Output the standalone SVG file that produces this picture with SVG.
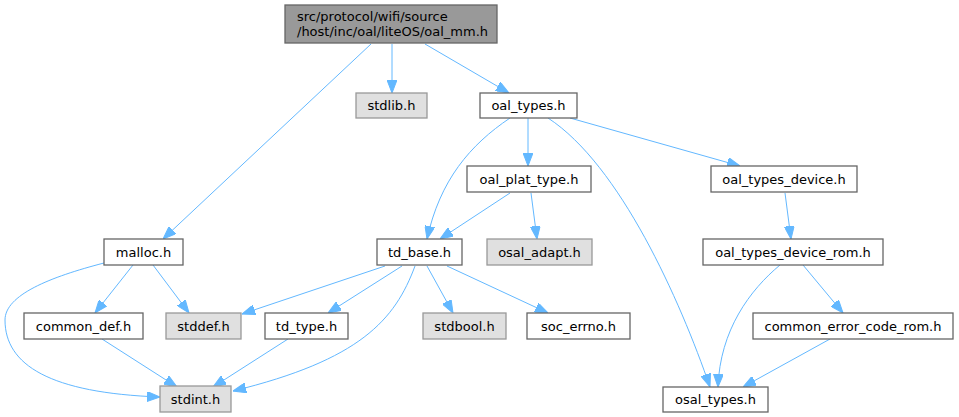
<svg xmlns="http://www.w3.org/2000/svg" width="959" height="417" viewBox="0 0 959 417">
<style>
.n rect{fill:#ffffff;stroke:#666666;stroke-width:1.3}
.g rect{fill:#e0e0e0;stroke:#999999;stroke-width:1.3}
.t rect{fill:#999999;stroke:#666666;stroke-width:1.3}
text{font-family:"DejaVu Sans",sans-serif;font-size:13px;fill:#000000}
.c{text-anchor:middle}
#edges path{fill:none;stroke:#63b8ff;stroke-width:1;marker-end:url(#ah)}
</style>
<defs>
<marker id="ah" markerUnits="userSpaceOnUse" markerWidth="13" markerHeight="10" refX="13" refY="5" orient="auto">
<path d="M0,0 L13,5 L0,10 z" fill="#63b8ff" stroke="#63b8ff" stroke-width="1"/>
</marker>
</defs>
<rect width="959" height="417" fill="#ffffff"/>
<g id="edges">
<path d="M371,44 L163,239"/>
<path d="M392,44 L392,93"/>
<path d="M425,44 L509,93"/>
<path d="M510,118 C470,145 440,180 427,239"/>
<path d="M528,118 L528,166"/>
<path d="M570,118 L740,166"/>
<path d="M548,118 C620,165 680,300 710,387"/>
<path d="M510,193 L440,239"/>
<path d="M531,193 L537,239"/>
<path d="M785,193 L791,239"/>
<path d="M780,265 C750,290 720,330 718,387"/>
<path d="M803,265 L843,313"/>
<path d="M830,339 L743,387"/>
<path d="M133,265 L95,313"/>
<path d="M153,265 L189,313"/>
<path d="M104,263 C50,277 5,295 5,320 C5,365 50,393 160,397"/>
<path d="M385,266 L242,314"/>
<path d="M402,266 L328,313"/>
<path d="M415,266 C395,320 360,360 233,391"/>
<path d="M427,266 L453,313"/>
<path d="M447,266 L548,313"/>
<path d="M102,339 L177,387"/>
<path d="M288,339 L213,387"/>
</g>
<g id="oal_mm" class="t"><rect x="285" y="5" width="212" height="38"/><text x="297" y="21">src/protocol/wifi/source</text><text x="297" y="36">/host/inc/oal/liteOS/oal_mm.h</text></g>
<g id="stdlib" class="g"><rect x="356" y="93" width="71" height="25"/><text class="c" x="391.5" y="110">stdlib.h</text></g>
<g id="oal_types" class="n"><rect x="480" y="93" width="97" height="25"/><text class="c" x="528.5" y="110">oal_types.h</text></g>
<g id="oal_plat_type" class="n"><rect x="467" y="166" width="124" height="26"/><text class="c" x="529" y="183.5">oal_plat_type.h</text></g>
<g id="oal_types_device" class="n"><rect x="711" y="166" width="146" height="26"/><text class="c" x="784" y="183.5">oal_types_device.h</text></g>
<g id="malloc" class="n"><rect x="104" y="239" width="79" height="26"/><text class="c" x="143.5" y="256.5">malloc.h</text></g>
<g id="td_base" class="n"><rect x="377" y="239" width="85" height="26"/><text class="c" x="419.5" y="256.5">td_base.h</text></g>
<g id="osal_adapt" class="g"><rect x="487" y="239" width="105" height="26"/><text class="c" x="539.5" y="256.5">osal_adapt.h</text></g>
<g id="oal_types_device_rom" class="n"><rect x="703" y="239" width="180" height="26"/><text class="c" x="793" y="256.5">oal_types_device_rom.h</text></g>
<g id="common_def" class="n"><rect x="24" y="313" width="119" height="26"/><text class="c" x="83.5" y="330.5">common_def.h</text></g>
<g id="stddef" class="g"><rect x="166" y="313" width="75" height="26"/><text class="c" x="203.5" y="330.5">stddef.h</text></g>
<g id="td_type" class="n"><rect x="265" y="313" width="83" height="26"/><text class="c" x="306.5" y="330.5">td_type.h</text></g>
<g id="stdbool" class="g"><rect x="423" y="313" width="83" height="26"/><text class="c" x="464.5" y="330.5">stdbool.h</text></g>
<g id="soc_errno" class="n"><rect x="527" y="313" width="103" height="26"/><text class="c" x="578.5" y="330.5">soc_errno.h</text></g>
<g id="common_error_code_rom" class="n"><rect x="753" y="313" width="200" height="26"/><text class="c" x="853" y="330.5">common_error_code_rom.h</text></g>
<g id="stdint" class="g"><rect x="160" y="386" width="71" height="26"/><text class="c" x="195.5" y="403.5">stdint.h</text></g>
<g id="osal_types" class="n"><rect x="663" y="387" width="105" height="25"/><text class="c" x="715.5" y="404">osal_types.h</text></g>
</svg>
